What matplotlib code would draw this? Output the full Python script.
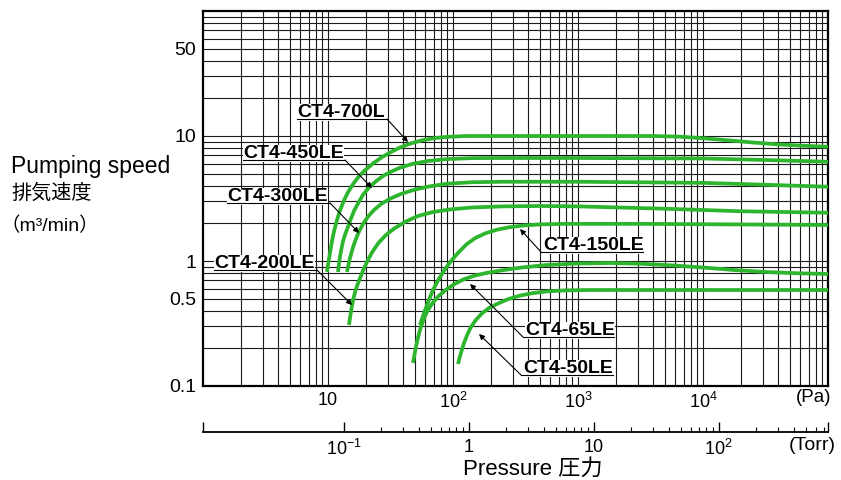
#!/usr/bin/env python3
"""Pumping speed vs pressure for the CT4 cryopump series (log-log)."""
import matplotlib; matplotlib.use("Agg"); import matplotlib.pyplot as plt

plt.rcParams["font.family"] = ["Liberation Sans", "Noto Sans CJK JP"]
plt.rcParams["mathtext.fontset"] = "custom"
plt.rcParams["mathtext.rm"] = "Liberation Sans"
plt.rcParams["mathtext.it"] = "Liberation Sans:italic"
plt.rcParams["mathtext.bf"] = "Liberation Sans:bold"

# pressure (Pa) / pumping speed (m3/min)
P_700L = [9.82, 10.0, 10.28, 10.59, 10.96, 11.48, 12.02, 12.59, 13.49, 14.45, 15.85, 17.78, 19.95,
          22.91, 26.92, 31.62, 38.02, 45.71, 56.23, 70.79, 89.13, 125.9, 1000, 3981, 6310, 10000,
          15850, 25120, 39810, 63100, 100000]
S_700L = [0.817, 0.933, 1.096, 1.318, 1.585, 1.928, 2.265, 2.60, 3.09, 3.548, 4.121, 4.786, 5.37,
          6.026, 6.761, 7.413, 8.128, 8.71, 9.226, 9.616, 9.84, 10.0, 10.0, 10.0, 9.89, 9.6,
          9.23, 8.87, 8.57, 8.36, 8.2]
P_450LE = [12.02, 12.25, 12.47, 12.82, 13.24, 13.74, 14.29, 15.14, 16.22, 17.38, 19.05, 21.38, 23.99,
           27.54, 31.62, 38.02, 47.86, 63.1, 89.13, 141.3, 251.2, 1000, 10000, 31620, 100000]
S_450LE = [0.817, 0.955, 1.084, 1.259, 1.462, 1.641, 1.82, 2.138, 2.541, 2.884, 3.388, 3.89, 4.315,
           4.786, 5.164, 5.598, 5.998, 6.31, 6.531, 6.653, 6.668, 6.67, 6.61, 6.43, 6.22]
P_300LE = [14.19, 14.52, 14.96, 15.49, 16.03, 16.79, 17.78, 19.05, 20.89, 23.44, 26.92, 31.62, 38.02,
           47.86, 63.1, 89.13, 141.3, 251.2, 1000, 10000, 31620, 100000]
S_300LE = [0.817, 0.912, 1.047, 1.189, 1.334, 1.514, 1.738, 1.972, 2.265, 2.57, 2.884, 3.162, 3.428,
           3.69, 3.936, 4.15, 4.266, 4.305, 4.305, 4.217, 4.074, 3.926]
P_200LE = [14.72, 15.0, 15.35, 15.85, 16.6, 17.58, 18.84, 20.42, 22.39, 25.12, 28.84, 33.88, 41.69,
           52.48, 69.18, 95.5, 141.3, 251.2, 501.2, 1000, 5012, 19950, 100000]
S_200LE = [0.308, 0.351, 0.407, 0.484, 0.582, 0.684, 0.813, 0.977, 1.161, 1.38, 1.603, 1.82, 2.065,
           2.291, 2.466, 2.588, 2.679, 2.735, 2.754, 2.735, 2.618, 2.5, 2.432]
P_150LE = [54.45, 56.23, 58.88, 63.1, 69.18, 75.86, 85.11, 95.5, 109.6, 128.8, 151.4, 182.0, 223.9,
           281.8, 363.1, 501.2, 794.3, 3162, 15850, 100000]
S_150LE = [0.308, 0.339, 0.389, 0.468, 0.586, 0.70, 0.841, 0.989, 1.161, 1.365, 1.531, 1.667, 1.778,
           1.862, 1.923, 1.963, 1.982, 1.982, 1.963, 1.941]
P_65LE = [47.86, 48.98, 50.12, 51.88, 54.33, 57.54, 61.66, 67.61, 75.86, 87.1, 102.3, 123.0, 151.4,
          190.5, 251.2, 354.8, 562.3, 1000, 1778, 3162, 5623, 10000, 17780, 31620, 56230, 100000]
S_65LE = [0.153, 0.174, 0.197, 0.232, 0.279, 0.331, 0.389, 0.452, 0.519, 0.586, 0.653, 0.716, 0.767,
          0.807, 0.845, 0.887, 0.929, 0.955, 0.964, 0.951, 0.923, 0.887, 0.847, 0.817, 0.798, 0.787]
P_50LE = [109.6, 112.2, 116.1, 121.6, 128.8, 138.0, 151.4, 169.8, 195.0, 229.1, 275.4, 338.8, 426.6,
          562.3, 794.3, 1259, 100000]
S_50LE = [0.150, 0.164, 0.186, 0.216, 0.251, 0.292, 0.335, 0.380, 0.422, 0.457, 0.495, 0.527, 0.552,
          0.571, 0.582, 0.586, 0.586]

MODELS = ["CT4-700L", "CT4-450LE", "CT4-300LE", "CT4-200LE", "CT4-150LE", "CT4-65LE", "CT4-50LE"]
CURVES = [(P_700L, S_700L), (P_450LE, S_450LE), (P_300LE, S_300LE), (P_200LE, S_200LE),
          (P_150LE, S_150LE), (P_65LE, S_65LE), (P_50LE, S_50LE)]

Y_TICKS = [0.1, 0.5, 1, 10, 50]
Y_TICK_LABELS = ["0.1", "0.5", "1", "10", "50"]
PA_TICKS = [10, 100, 1e3, 1e4]
PA_TICK_LABELS = ["10", r"$10^{2}$", r"$10^{3}$", r"$10^{4}$"]
TORR_TICKS = [0.1, 1, 10, 100]
TORR_TICK_LABELS = [r"$10^{-1}$", "1", "10", r"$10^{2}$"]
PA_PER_TORR = 133.322

# label placement in figure pixels: text (x, baseline), underline (x0, x1, y), arrow tip
LABELS = {
    "CT4-700L":  ((297, 117), (297, 387, 119), (408, 142)),
    "CT4-450LE": ((243, 158), (243, 345, 160), (372, 188)),
    "CT4-300LE": ((227, 201), (227, 330, 203), (359, 233)),
    "CT4-200LE": ((214, 268), (214, 317, 270), (352, 305)),
    "CT4-150LE": ((543, 250), (541, 643, 252), (520, 229)),
    "CT4-65LE":  ((525, 335), (523, 614, 337), (470, 284)),
    "CT4-50LE":  ((523, 373), (521, 613, 375), (479, 334)),
}
LEFT_SIDE = {"CT4-700L", "CT4-450LE", "CT4-300LE", "CT4-200LE"}

W, H = 841, 480
L, R, T, B = 203, 828, 11, 386
GREEN = "#2eb52e"

fig = plt.figure(figsize=(W / 100, H / 100), dpi=100)
ax = fig.add_axes([L / W, 1 - B / H, (R - L) / W, (B - T) / H])
ax.set_xscale("log"); ax.set_yscale("log")
ax.set_xlim(1, 1e5); ax.set_ylim(0.1, 100)

decades = [1, 10, 100, 1e3, 1e4, 0.1]
minor = [k * d for d in decades for k in range(2, 10)]
ax.set_xticks(PA_TICKS, labels=PA_TICK_LABELS)
ax.set_xticks([m for m in minor if 1 < m < 1e5], minor=True)
ax.set_yticks(Y_TICKS, labels=Y_TICK_LABELS)
ax.set_yticks([m for m in minor if 0.1 < m < 100] + [1, 10], minor=True)
ax.xaxis.set_minor_formatter(plt.NullFormatter())
ax.yaxis.set_minor_formatter(plt.NullFormatter())
ax.tick_params(axis="x", which="both", length=0, pad=4, labelsize=13)
ax.tick_params(axis="y", which="both", length=0, pad=5, labelsize=14)
ax.grid(True, which="both", color="#1a1a1a", lw=0.8, zorder=0)
for s in ax.spines.values():
    s.set_linewidth(1.6)

for (p, s) in CURVES:
    ax.plot(p, s, color=GREEN, lw=2.7, solid_capstyle="butt", solid_joinstyle="round", zorder=3)

def frac(px, py):
    return ((px - L) / (R - L), (B - py) / (B - T))

for name in MODELS:
    (tx, ty), (u0, u1, uy), tip = LABELS[name]
    ax.text(*frac(tx, ty), name, transform=ax.transAxes, ha="left", va="baseline",
            fontsize=14, fontweight="bold", zorder=5,
            bbox=dict(fc="white", ec="none", pad=0.3))
    ax.plot(*zip(frac(u0, uy), frac(u1, uy)), transform=ax.transAxes, color="k", lw=0.8,
            zorder=6, clip_on=False)
    start = (u1, uy) if name in LEFT_SIDE else (u0, uy)
    ax.annotate("", xy=frac(*tip), xycoords="axes fraction", xytext=frac(*start),
                textcoords="axes fraction", zorder=6,
                arrowprops=dict(arrowstyle="-|>", color="k", lw=0.8, mutation_scale=8,
                                shrinkA=0, shrinkB=0))

# Torr scale below the Pa axis
ax2 = fig.add_axes([L / W, 1 - 432 / H, (R - L) / W, 0.001])
ax2.set_xscale("log")
lo, hi = 1 / PA_PER_TORR, 1e5 / PA_PER_TORR
ax2.set_xlim(lo, hi)
ax2.set_xticks([lo] + TORR_TICKS + [hi], labels=[""] + TORR_TICK_LABELS + [""])
ax2.set_xticks([m for m in minor if 0.1 < m < hi], minor=True)
ax2.xaxis.set_minor_formatter(plt.NullFormatter())
ax2.set_yticks([])
ax2.patch.set_visible(False)
for side in ("left", "right", "top"):
    ax2.spines[side].set_visible(False)
ax2.spines["bottom"].set_linewidth(1.3)
ax2.tick_params(axis="x", which="major", direction="in", length=7.5, width=1, pad=5, labelsize=13)
ax2.tick_params(axis="x", which="minor", direction="in", length=3.5, width=0.8)

fig.text(831 / W, 1 - 398 / H, "(Pa)", ha="right", va="center", fontsize=13.5)
fig.text(836 / W, 1 - 446 / H, "(Torr)", ha="right", va="center", fontsize=14)
fig.text(533 / W, 1 - 469 / H, "Pressure 圧力", ha="center", va="center", fontsize=16)

fig.text(11 / W, 1 - 173 / H, "Pumping speed", ha="left", va="baseline", fontsize=16.5)
fig.text(11 / W, 1 - 193 / H, "排気速度", ha="left", va="center", fontsize=14.5)
fig.text(1 / W, 1 - 231 / H, "（m³/min）", ha="left", va="baseline", fontsize=14)

fig.savefig("out.png", dpi=100)
